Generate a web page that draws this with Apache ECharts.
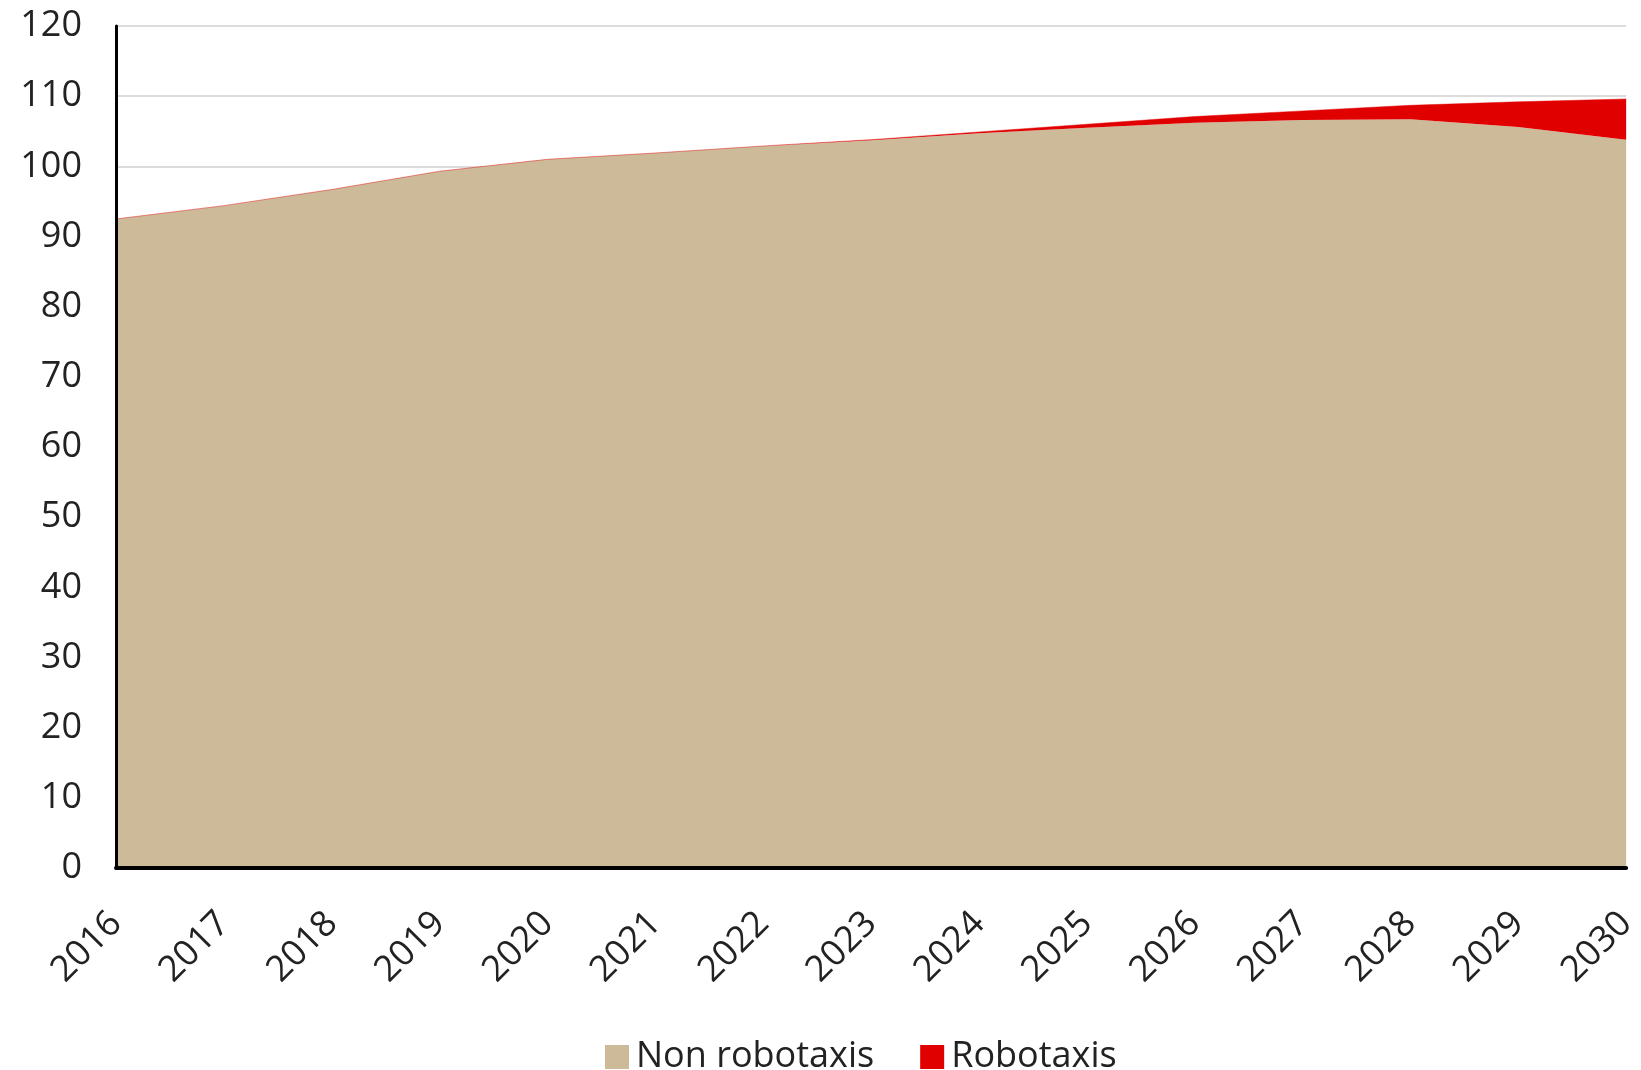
<!DOCTYPE html>
<html>
<head>
<meta charset="utf-8">
<style>
  html, body { margin: 0; padding: 0; background: #ffffff; }
  #chart { width: 1641px; height: 1070px; }
</style>
<script src="https://cdn.jsdelivr.net/npm/echarts@6/dist/echarts.min.js"></script>
</head>
<body>
<div id="chart"></div>
<script>
// Vehicle fleet, 2016–2030: conventional vehicles vs robotaxis (stacked)
const years = ['2016', '2017', '2018', '2019', '2020', '2021', '2022', '2023',
               '2024', '2025', '2026', '2027', '2028', '2029', '2030'];
const nonRobotaxis = [92.5, 94.4, 96.7, 99.3, 101.0, 101.9, 102.9, 103.7,
                      104.7, 105.5, 106.2, 106.6, 106.7, 105.6, 103.8];
const robotaxis = [0, 0, 0, 0, 0, 0, 0, 0.1,
                   0.2, 0.5, 0.9, 1.3, 2.0, 3.6, 5.8];
const yTicks = { min: 0, max: 120, interval: 10 };

const TAN = '#cdba99';
const RED = '#e10000';
const FONT = '"Open Sans", "Noto Sans", sans-serif';
const TEXT = '#222222';
const FS = 36;

const chart = echarts.init(document.getElementById('chart'), null, { renderer: 'canvas' });

chart.setOption({
  animation: false,
  backgroundColor: '#ffffff',
  grid: { left: 116, right: 14, top: 26, bottom: 202, containLabel: false },
  legend: {
    left: 600,
    top: 1034,
    itemWidth: 24,
    itemHeight: 24,
    itemGap: 46,
    icon: 'rect',
    textStyle: { fontFamily: FONT, fontSize: FS, color: TEXT, padding: [0, 0, 0, 2] },
    data: ['Non robotaxis', 'Robotaxis']
  },
  xAxis: {
    type: 'category',
    data: years,
    boundaryGap: false,
    z: 10,
    axisLine: { show: true, lineStyle: { color: '#000000', width: 4 } },
    axisTick: { show: false },
    axisLabel: {
      rotate: 45,
      margin: 50,
      fontFamily: FONT,
      fontSize: FS,
      color: TEXT,
      interval: 0
    },
    splitLine: { show: false }
  },
  yAxis: [
    {
      // value scale with labels and gridlines, drawn beneath the areas
      type: 'value',
      min: yTicks.min,
      max: yTicks.max,
      interval: yTicks.interval,
      axisLine: { show: false },
      axisTick: { show: false },
      axisLabel: { margin: 34, fontFamily: FONT, fontSize: FS, color: TEXT },
      splitLine: { show: true, lineStyle: { color: '#dcdcdc', width: 2 } }
    },
    {
      // same scale, only the black axis line, drawn above the areas
      type: 'value',
      position: 'left',
      min: yTicks.min,
      max: yTicks.max,
      interval: yTicks.interval,
      z: 10,
      axisLine: { show: true, onZero: false, lineStyle: { color: '#000000', width: 3 } },
      axisTick: { show: false },
      axisLabel: { show: false },
      splitLine: { show: false }
    }
  ],
  series: [
    {
      name: 'Non robotaxis',
      type: 'line',
      stack: 'fleet',
      data: nonRobotaxis,
      symbol: 'none',
      smooth: false,
      itemStyle: { color: TAN },
      lineStyle: { width: 0, color: TAN },
      areaStyle: { color: TAN, opacity: 1 },
      z: 2
    },
    {
      name: 'Robotaxis',
      type: 'line',
      stack: 'fleet',
      data: robotaxis,
      symbol: 'none',
      smooth: false,
      itemStyle: { color: RED },
      lineStyle: { width: 1, color: 'rgba(225,0,0,0.45)' },
      areaStyle: { color: RED, opacity: 1 },
      z: 3
    }
  ]
});
</script>
</body>
</html>
